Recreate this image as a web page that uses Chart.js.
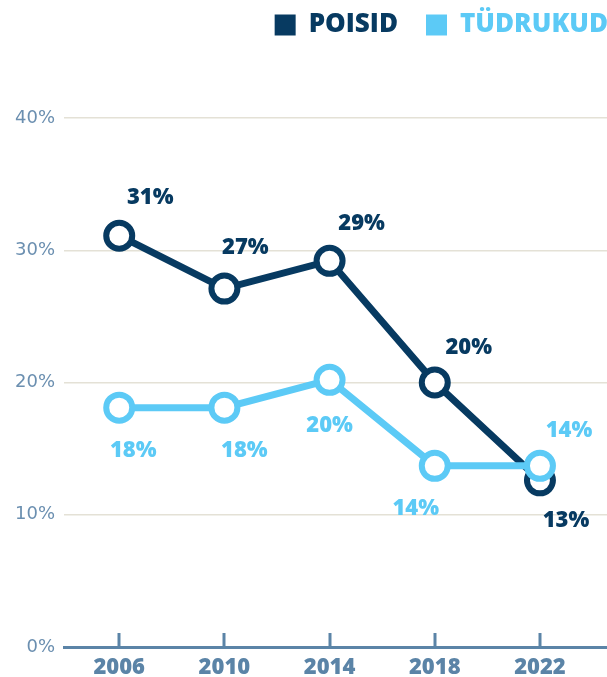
<!DOCTYPE html>
<html lang="et">
<head>
    <meta charset="UTF-8">
    <title>Poisid ja tüdrukud</title>
    <script src="https://cdn.jsdelivr.net/npm/chart.js"></script>
    <style>
        html, body {
            margin: 0;
            padding: 0;
            background: #fff;
            overflow: hidden;
        }
        .wrap {
            width: 607px;
            height: 677px;
            position: relative;
        }
        canvas {
            display: block;
        }
    </style>
</head>
<body>
    <div class="wrap">
        <canvas id="lineChart"></canvas>
    </div>

    <script>
        // Andmed
        var years = [2006, 2010, 2014, 2018, 2022];
        var poisid = [31.1, 27.1, 29.2, 20.0, 12.6];
        var tudrukud = [18.1, 18.1, 20.2, 13.7, 13.7];
        var yTicks = [0, 10, 20, 30, 40];

        var NAVY = '#073a61';
        var LIGHT = '#5ccaf6';
        var AXIS = '#5b84a7';
        var FONT = "'Open Sans', sans-serif";
        var WIDE = "'DejaVu Sans', sans-serif";

        // siltide nihked punkti suhtes
        var labelOffsets = [
            [[31, -38], [21, -41], [32, -37], [34, -35], [26, 40]],
            [[14, 43], [20, 43], [0, 46], [-19, 43], [29, -35]]
        ];

        function toPoints(vals) {
            return vals.map(function (v, i) { return { x: years[i], y: v }; });
        }

        var valueLabels = {
            id: 'valueLabels',
            afterDatasetsDraw: function (chart) {
                var ctx = chart.ctx;
                ctx.save();
                ctx.font = '800 22px ' + FONT;
                ctx.textAlign = 'center';
                ctx.textBaseline = 'middle';
                chart.data.datasets.forEach(function (ds, di) {
                    var meta = chart.getDatasetMeta(di);
                    ctx.fillStyle = ds.borderColor;
                    meta.data.forEach(function (pt, i) {
                        var off = labelOffsets[di][i];
                        ctx.fillText(Math.round(ds.data[i].y) + '%', pt.x + off[0], pt.y + off[1]);
                    });
                });
                ctx.restore();
            }
        };

        // väikesed püstised kriipsud x-teljel
        var upTicks = {
            id: 'upTicks',
            afterDraw: function (chart) {
                var ctx = chart.ctx;
                var xs = chart.scales.x;
                var bottom = chart.chartArea.bottom;
                ctx.save();
                ctx.strokeStyle = AXIS;
                ctx.lineWidth = 3;
                years.forEach(function (y) {
                    var px = Math.round(xs.getPixelForValue(y));
                    ctx.beginPath();
                    ctx.moveTo(px, bottom);
                    ctx.lineTo(px, bottom - 14);
                    ctx.stroke();
                });
                ctx.restore();
            }
        };

        // legendi koht: kõrgus ja nihe
        var legendSpace = {
            id: 'legendSpace',
            beforeInit: function (chart) {
                var fit = chart.legend.fit;
                chart.legend.fit = function () {
                    fit.bind(chart.legend)();
                    this.height = 118;
                };
            },
            afterLayout: function (chart) {
                chart.legend.left += 29;
                chart.legend.right += 29;
                chart.legend.top -= 16;
            }
        };

        var ctx = document.getElementById('lineChart').getContext('2d');
        var chart = new Chart(ctx, {
            type: 'line',
            data: {
                datasets: [{
                    label: 'POISID',
                    data: toPoints(poisid),
                    borderColor: NAVY,
                    backgroundColor: NAVY,
                    borderWidth: 7,
                    pointRadius: 13,
                    pointHoverRadius: 13,
                    pointBorderWidth: 6,
                    pointBackgroundColor: '#fff',
                    pointBorderColor: NAVY,
                    tension: 0,
                    order: 1
                }, {
                    label: 'TÜDRUKUD',
                    data: toPoints(tudrukud),
                    borderColor: LIGHT,
                    backgroundColor: LIGHT,
                    borderWidth: 7,
                    pointRadius: 13,
                    pointHoverRadius: 13,
                    pointBorderWidth: 6,
                    pointBackgroundColor: '#fff',
                    pointBorderColor: LIGHT,
                    tension: 0,
                    order: 0
                }]
            },
            options: {
                responsive: true,
                maintainAspectRatio: false,
                animation: false,
                layout: {
                    autoPadding: false,
                    padding: 0
                },
                plugins: {
                    tooltip: { enabled: false },
                    legend: {
                        position: 'top',
                        align: 'end',
                        labels: {
                            boxWidth: 21,
                            boxHeight: 21,
                            padding: 28,
                            font: { family: FONT, size: 26, weight: '800' },
                            generateLabels: function (chart) {
                                return chart.data.datasets.map(function (ds, i) {
                                    return {
                                        text: ds.label,
                                        fillStyle: ds.borderColor,
                                        strokeStyle: ds.borderColor,
                                        lineWidth: 0,
                                        fontColor: ds.borderColor,
                                        datasetIndex: i
                                    };
                                });
                            }
                        }
                    }
                },
                scales: {
                    x: {
                        type: 'linear',
                        min: 2003.9,
                        max: 2024.55,
                        afterBuildTicks: function (scale) {
                            scale.ticks = years.map(function (v) { return { value: v }; });
                        },
                        afterFit: function (scale) {
                            scale.height = 30;
                            scale.paddingLeft = 0;
                            scale.paddingRight = 0;
                        },
                        grid: { display: false, drawTicks: false },
                        border: { display: true, color: AXIS, width: 3 },
                        ticks: {
                            padding: 8,
                            color: AXIS,
                            font: { family: FONT, size: 22, weight: '800' },
                            callback: function (v) { return String(v); }
                        }
                    },
                    y: {
                        min: 0,
                        max: 40,
                        afterBuildTicks: function (scale) {
                            scale.ticks = yTicks.map(function (v) { return { value: v }; });
                        },
                        afterFit: function (scale) {
                            scale.width = 64;
                            scale.paddingTop = 0;
                            scale.paddingBottom = 0;
                        },
                        grid: { color: '#e4e1d6', lineWidth: 1.5, drawTicks: false },
                        border: { display: false },
                        ticks: {
                            padding: 9,
                            color: '#6b8fb0',
                            font: { family: WIDE, size: 18 },
                            callback: function (v) { return v + '%'; }
                        }
                    }
                }
            },
            plugins: [valueLabels, upTicks, legendSpace]
        });
    </script>
</body>
</html>
